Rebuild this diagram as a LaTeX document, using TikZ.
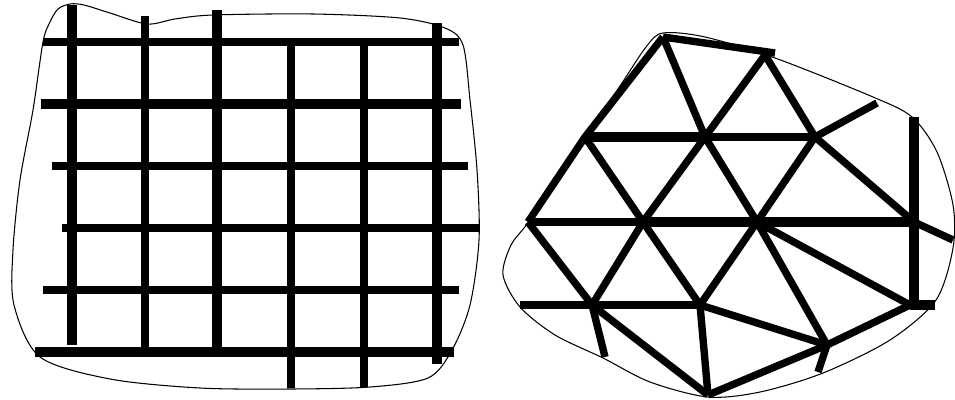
\documentclass[tikz,border=0pt]{standalone}
\usepackage{tikz}
\usetikzlibrary{calc}

\tikzset{
  bar/.style={line width=4.2pt},
  fatbar/.style={line width=5.4pt},
  rim/.style={line width=0.6pt},
}

\begin{document}
\begin{tikzpicture}[x=0.02cm, y=-0.02cm]
        \useasboundingbox (0,0) rectangle (955,399);

        % Left region outline
        \draw[rim] plot[smooth cycle, tension=0.5] coordinates {(70,4) (84,5) (110,13) (147,24) (175,19) (213,15) (313,14) (400,18) (445,28) (463,45) (470,100) (477,170) (479,240) (470,305) (452,350) (428,378) (370,387) (290,389) (200,388) (110,379) (40,357) (14,305) (13,250) (20,180) (33,110) (43,42) (50,22) (58,9)};

        % Grid: vertical bars
        \draw[fatbar] (72,5) -- (72,345); \draw[bar] (145,16) -- (145,350); \draw[fatbar] (217,10) -- (217,350);
        \draw[bar] (291,42) -- (291,388); \draw[bar] (364,42) -- (364,387); \draw[fatbar] (437,23) -- (437,364);
        % Grid: horizontal bars
        \draw[bar] (43,42) -- (459,42); \draw[fatbar] (41,104) -- (461,104); \draw[bar] (52,166) -- (468,166);
        \draw[bar] (62,228) -- (480,228); \draw[bar] (43,290) -- (459,290); \draw[fatbar] (35,352) -- (454,352);

        % Right region outline
        \draw[rim] plot[smooth cycle, tension=0.5] coordinates {(663,33) (705,37) (775,58) (873,97) (912,117) (937,152) (953,205) (953,248) (936,300) (890,340) (823,373) (760,392) (708,397) (650,382) (603,358) (555,335) (520,307) (503,275) (511,245) (527,224) (556,180) (585,137) (620,86) (646,47)};

        % Mesh vertices
        \coordinate (A) at (663,37); \coordinate (B) at (765,55); \coordinate (Bx) at (775,53);
        \coordinate (C) at (585,137); \coordinate (D) at (705,137); \coordinate (E) at (815,137); \coordinate (Ex) at (877,103);
        \coordinate (F) at (528,222); \coordinate (G) at (643,222); \coordinate (H) at (757,222); \coordinate (I) at (914,222); \coordinate (Ix) at (953,240);
        \coordinate (J) at (520,305); \coordinate (K) at (592,305); \coordinate (L) at (700,305); \coordinate (M) at (910,305); \coordinate (Mx) at (935,305);
        \coordinate (N) at (827,345); \coordinate (O) at (708,395);
        \coordinate (Kx) at (605,357); \coordinate (Nx) at (818,372); \coordinate (Top) at (914,117); \coordinate (Bot) at (914,305);

        % Mesh edges
        \draw[bar] (A) -- (Bx); \draw[bar] (A) -- (C) -- (F); \draw[bar] (A) -- (D); \draw[bar] (B) -- (D); \draw[bar] (B) -- (E);
        \draw[fatbar] (C) -- (D); \draw[bar] (D) -- (E); \draw[bar] (E) -- (Ex);
        \draw[bar] (C) -- (G); \draw[bar] (D) -- (G); \draw[bar] (D) -- (H); \draw[bar] (E) -- (H); \draw[bar] (E) -- (I);
        \draw[bar] (F) -- (G); \draw[fatbar] (G) -- (I); \draw[bar] (I) -- (Ix);
        \draw[bar] (F) -- (K); \draw[bar] (G) -- (K); \draw[bar] (G) -- (L); \draw[bar] (H) -- (L); \draw[bar] (H) -- (N); \draw[bar] (H) -- (M);
        \draw[bar] (J) -- (L); \draw[bar] (K) -- (Kx); \draw[bar] (K) -- (O); \draw[bar] (L) -- (O); \draw[bar] (L) -- (N);
        \draw[bar] (O) -- (N); \draw[bar] (N) -- (M); \draw[bar] (N) -- (Nx); \draw[fatbar] (M) -- (Mx);
        \draw[fatbar] (Top) -- (Bot);
\end{tikzpicture}
\end{document}
